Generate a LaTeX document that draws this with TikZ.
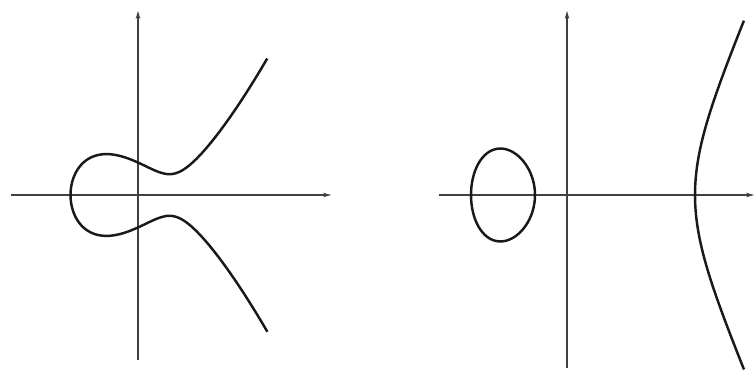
\documentclass[tikz,border=0pt]{standalone}
\usepackage{tikz}
\usetikzlibrary{arrows.meta}
\begin{document}
\begin{tikzpicture}[
  axis/.style={draw=black!75, line width=0.7pt},
  curve/.style={draw=black!90, line width=1.4pt, smooth},
  >={Stealth[length=4.5pt,width=2.6pt]},
  declare function={gl(\x)=\x*\x-2.1418*\x+1.5873;}
]
\useasboundingbox (0,0) rectangle (15.1,7.48);
% left picture: one real component
\coordinate (o1) at (2.76,3.58);
\coordinate (x1a) at (0.22,3.58); \coordinate (x1b) at (6.62,3.58);
\coordinate (y1a) at (2.76,0.28); \coordinate (y1b) at (2.76,7.26);
\draw[axis,->] (x1a)--(x1b); \draw[axis,->] (y1a)--(y1b);
\begin{scope}[shift={(o1)}, xscale=0.63, yscale=0.352]
\draw[curve] plot[domain=-2.5:2.5, samples=121, variable=\t]
  ({-2.1418+(\t)*(\t)}, {(\t)*sqrt(gl(-2.1418+(\t)*(\t)))});
\end{scope}
% right picture: oval and open branch
\coordinate (o2) at (11.34,3.58);
\coordinate (x2a) at (8.78,3.58); \coordinate (x2b) at (15.08,3.58);
\coordinate (y2a) at (11.34,0.12); \coordinate (y2b) at (11.34,7.26);
\draw[axis,->] (x2a)--(x2b); \draw[axis,->] (y2a)--(y2b);
\begin{scope}[shift={(o2)}, xscale=0.64, yscale=0.378]
\draw[curve] plot[smooth cycle, domain=0:355, samples=72, variable=\a]
  ({-2+cos(\a)}, {sin(\a)*sqrt(6-cos(\a))});
\draw[curve] plot[domain=-1.237:1.237, samples=81, variable=\t]
  ({4+(\t)*(\t)}, {(\t)*sqrt((7+(\t)*(\t))*(5+(\t)*(\t)))});
\end{scope}
\end{tikzpicture}
\end{document}
